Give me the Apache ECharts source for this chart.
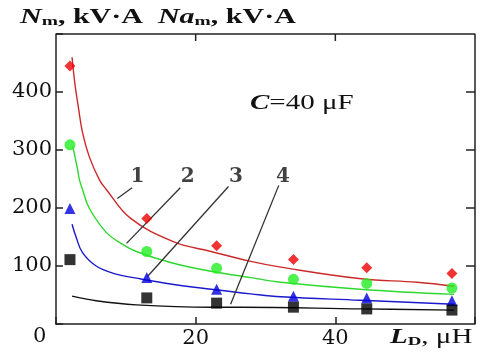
<!DOCTYPE html>
<html><head><meta charset="utf-8">
<script src="https://cdn.jsdelivr.net/npm/echarts@6/dist/echarts.min.js"></script>
<style>html,body{margin:0;padding:0;background:#fff}#c{width:483px;height:352px}</style>
</head><body><div id="c"></div>
<script>
// axis ticks
const xTicks = [0, 20, 40, 60];
const yTicks = [0, 100, 200, 300, 400, 500];
// measured points (LD in µH)
const measX = [2, 13, 23, 34, 44.5, 56.7];
const meas1 = [445, 182, 135, 111, 97, 87];
const meas2 = [309, 125, 96, 77, 70, 62];
const meas3 = [199, 80, 60, 48, 45, 40];
const meas4 = [111, 45, 36, 29, 26, 24];
// fitted curves [LD, value]
const fit1 = [[2.3,460],[2.7,415],[3.2,374],[3.8,330],[4.75,289],[6.2,249],[7.2,232],[10.6,183],[16.8,142],[22.2,125],[27.9,108],[32.2,98],[43.7,78],[51.7,72],[57,65]];
const fit2 = [[2.4,306],[3.1,266],[3.35,249],[3.8,232],[4.75,200],[7.2,158],[9.6,137],[11.5,125],[16.4,106],[22.2,91],[27.9,80],[32.2,72],[43.5,60],[57,51]];
const fit3 = [[2.3,172],[2.9,149],[3.8,123],[5.75,100],[8.6,86],[11.5,79],[16.4,69],[22.2,60],[27.9,52],[32.2,47],[43.5,41],[57,34]];
const fit4 = [[2.3,48],[5.75,40],[11.5,33],[22.2,29],[26.5,29],[43.7,26],[57,24]];
// curve number labels and leader lines (data coords)
const curveNames = ['1', '2', '3', '4'];
const labelPos = [[11.65,254],[18.85,254],[25.76,254],[32.5,254]];
const leaders = [
  [[8.78,216.5],[10.9,235]],
  [[10.1,139],[17.8,235]],
  [[13.1,82],[24.7,237]],
  [[25.0,34],[31.9,239]]
];

const serif = 'DejaVu Serif';
const times = 'Liberation Serif';
const chart = echarts.init(document.getElementById('c'), null, {renderer: 'canvas'});
const pairs = (xs, ys) => xs.map((x, i) => [x, ys[i]]);
const xMin = xTicks[0], xMax = xTicks[xTicks.length-1];
const yMin = yTicks[0], yMax = yTicks[yTicks.length-1];

const series = [];
const colsLine = ['#cc2a2a', '#2ed82e', '#1a1acc', '#111'];
const colsMark = ['#ee0000', '#22ee22', '#0000dd', '#000'];
const syms = ['diamond', 'circle', 'triangle', 'rect'];
[fit1, fit2, fit3, fit4].forEach((f, i) => {
  series.push({type: 'line', data: f, smooth: 0.4, showSymbol: false,
    lineStyle: {color: colsLine[i], width: 1.4}, z: 2});
});
[meas1, meas2, meas3, meas4].forEach((m, i) => {
  series.push({type: 'scatter', data: pairs(measX, m), symbol: syms[i], symbolSize: 11,
    itemStyle: {color: colsMark[i]}, z: 4});
});
leaders.forEach(l => {
  series.push({type: 'line', data: l, showSymbol: false, lineStyle: {color: '#333', width: 1.3}, z: 3});
});
series.push({type: 'scatter', symbolSize: 1, itemStyle: {color: 'rgba(0,0,0,0)'},
  data: labelPos.map((p, i) => ({value: p, name: curveNames[i]})),
  label: {show: true, position: 'inside', formatter: '{b}', fontFamily: serif, fontWeight: 'bold', fontSize: 20, color: '#111'}, z: 5});

// frame: top and right edges plus mirrored inside ticks, drawn through the axes
const frameStyle = () => ({color: '#222', width: 1.5});
series.push({type: 'line', data: [[xMin, yMax], [xMax, yMax], [xMax, yMin]], showSymbol: false,
  clip: false, lineStyle: frameStyle(), z: 6});
const yTickLen = (yMax - yMin) * 7 / 290;   // ~7 px
const xTickLen = (xMax - xMin) * 9 / 419;   // ~9 px
xTicks.slice(1, -1).forEach(v => {
  series.push({type: 'line', data: [[v, yMax], [v, yMax - yTickLen]], showSymbol: false,
    clip: false, lineStyle: frameStyle(), z: 6});
});
yTicks.slice(1, -1).forEach(v => {
  series.push({type: 'line', data: [[xMax, v], [xMax - xTickLen, v]], showSymbol: false,
    clip: false, lineStyle: frameStyle(), z: 6});
});

chart.setOption({
  animation: false,
  backgroundColor: '#fff',
  grid: {left: 56, right: 8, top: 34, bottom: 28},
  xAxis: {type: 'value', min: xMin, max: xMax, interval: 20,
      axisLine: {onZero: false, lineStyle: {color: '#222', width: 1.5}},
      axisTick: {inside: true, length: 7, lineStyle: {color: '#222', width: 1.5}},
      splitLine: {show: false},
      axisLabel: {margin: 4, fontFamily: serif, fontSize: 21, color: '#111',
        formatter: v => (v === xMin || v === xMax) ? '' : String(v)}},
  yAxis: {type: 'value', min: yMin, max: yMax, interval: 100,
      axisLine: {show: true, onZero: false, lineStyle: {color: '#222', width: 1.5}},
      axisTick: {show: true, inside: true, length: 7, lineStyle: {color: '#222', width: 1.5}},
      splitLine: {show: false},
      axisLabel: {margin: 4, fontFamily: serif, fontSize: 21, color: '#111',
        formatter: v => (v === yMin || v === yMax) ? '' : String(v)}},
  series: series,
  graphic: [
    {type: 'text', x: 20, y: 8, scaleX: 1.5, style: {
      text: '{ni|N}{sub|m}{b|, kV·A  }{ni|N}{ai|a}{sub|m}{b|, kV·A}',
      rich: {
        ni: {fontFamily: times, fontStyle: 'italic', fontWeight: 'bold', fontSize: 20, fill: '#111'},
        ai: {fontFamily: times, fontStyle: 'italic', fontWeight: 'bold', fontSize: 20, fill: '#111'},
        sub: {fontFamily: times, fontWeight: 'bold', fontSize: 13, fill: '#111', verticalAlign: 'bottom'},
        b: {fontFamily: times, fontWeight: 'bold', fontSize: 20, fill: '#111'}
      }}},
    {type: 'text', x: 250, y: 94, scaleX: 1.45, style: {
      text: '{ci|C}{r|=40 μF}',
      rich: {
        ci: {fontFamily: times, fontStyle: 'italic', fontWeight: 'bold', fontSize: 20, fill: '#111'},
        r: {fontFamily: times, fontSize: 20, fill: '#111'}
      }}},
    {type: 'text', left: 33, top: 326, style: {text: '0', fontFamily: serif, fontSize: 21, fill: '#111'}},
    {type: 'text', x: 390, y: 328, scaleX: 1.45, style: {
      text: '{li|L}{d|D}{r|, μH}',
      rich: {
        li: {fontFamily: times, fontStyle: 'italic', fontWeight: 'bold', fontSize: 20, fill: '#111'},
        d: {fontFamily: times, fontWeight: 'bold', fontSize: 13, fill: '#111', verticalAlign: 'bottom'},
        r: {fontFamily: times, fontSize: 20, fill: '#111'}
      }}}
  ]
});
</script>
</body></html>
